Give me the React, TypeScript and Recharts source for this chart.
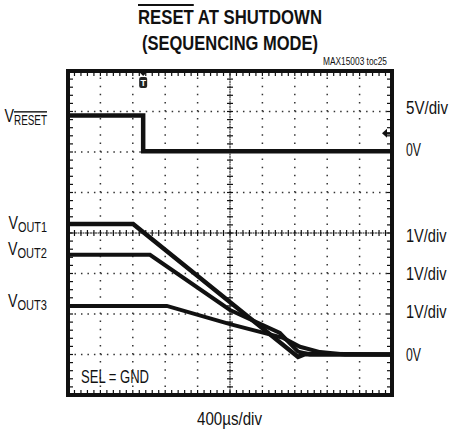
import React from 'react';
import { LineChart, Line, XAxis, YAxis, ReferenceLine, ReferenceDot } from 'recharts';

const FONT = "'Liberation Sans', Arial, sans-serif";
const INK = '#111';

// scope screen is 10 x 8 divisions, values below are in divisions
const gridX = [1, 2, 3, 4, 6, 7, 8, 9];
const gridY = [1, 2, 3, 5, 6, 7];

const resetX = [0, 2.32, 2.32, 10];
const resetY = [6.9, 6.9, 6.02, 6.02];
const out1X = [0, 2.01, 7.1, 7.31, 10];
const out1Y = [4.22, 4.22, 0.94, 1.01, 1.0];
const out2X = [0, 2.53, 5.0, 6.54, 7.1, 7.47, 10];
const out2Y = [3.46, 3.46, 2.1, 1.53, 1.07, 1.0, 1.0];
const out3X = [0, 3.05, 5.0, 6.64, 7.16, 7.78, 8.55, 10];
const out3Y = [2.2, 2.2, 1.75, 1.41, 1.19, 1.06, 1.0, 1.0];

const leftTicks = [6.86, 4.22, 3.58, 2.3];
const leftNames = ['RESET', 'OUT1', 'OUT2', 'OUT3'];
const leftWidths = [33, 29, 29.5, 29.5];
const rightTicks = [7.1, 6.05, 3.95, 3.0, 2.05, 1.0];
const rightNames = ['5V/div', '0V', '1V/div', '1V/div', '1V/div', '0V'];
const rightWidths = [42, 15, 40.5, 40.5, 40.5, 15];

const triggerX = 2.32;
const groundMarkY = 6.46;

const pts = (xs: number[], ys: number[]) => xs.map((x, i) => ({ x, y: ys[i] }));

// condensed look: squeeze text to the width measured on the reference
const Narrow = ({ x, y, w, size, anchor, bold, over, children }: any) => (
  <text
    x={x}
    y={y}
    textAnchor={anchor || 'start'}
    fontSize={size}
    fontWeight={bold ? 'bold' : 'normal'}
    fontFamily={FONT}
    fill={INK}
    textLength={w}
    lengthAdjust="spacingAndGlyphs"
    textDecoration={over ? 'overline' : undefined}
  >
    {children}
  </text>
);

// line with small perpendicular graticule ticks
const ticked = (n: number, a: number, b: number, w: number, dash?: string) => (p: any) => {
  const { x1, y1, x2, y2 } = p;
  const horiz = Math.abs(y1 - y2) < 0.5;
  const marks = [];
  for (let i = 0; i <= n; i++) {
    const x = x1 + ((x2 - x1) * i) / n;
    const y = y1 + ((y2 - y1) * i) / n;
    marks.push(
      horiz ? (
        <line key={i} x1={x} x2={x} y1={y - a} y2={y + b} stroke={INK} strokeWidth={1.2} />
      ) : (
        <line key={i} x1={x - a} x2={x + b} y1={y} y2={y} stroke={INK} strokeWidth={1.2} />
      )
    );
  }
  return (
    <g>
      <line x1={x1} y1={y1} x2={x2} y2={y2} stroke={INK} strokeWidth={w} strokeDasharray={dash} strokeLinecap="square" />
      {marks}
    </g>
  );
};

const LeftTick = (props: any) => {
  const i = leftTicks.indexOf(props.payload.value);
  const sw = leftWidths[i];
  return (
    <g>
      <Narrow x={47 - sw - 9.5} y={props.y + 5} w={9.5} size={18}>
        V
      </Narrow>
      <Narrow x={47 - sw} y={props.y + 8} w={sw} size={14} over={i === 0}>
        {leftNames[i]}
      </Narrow>
    </g>
  );
};

const RightTick = (props: any) => {
  const i = rightTicks.indexOf(props.payload.value);
  return (
    <Narrow x={406} y={props.y + 6.5} w={rightWidths[i]} size={18}>
      {rightNames[i]}
    </Narrow>
  );
};

const Trigger = (p: any) => (
  <g>
    <path d={`M${p.cx - 4},${p.cy + 1} L${p.cx + 4},${p.cy + 1} L${p.cx},${p.cy + 5} Z`} fill={INK} />
    <rect x={p.cx - 4} y={p.cy + 6} width={8} height={11} rx={2} fill="#222" />
    <text x={p.cx} y={p.cy + 15} textAnchor="middle" fontSize={9} fontWeight="bold" fill="#fff" fontFamily={FONT}>
      T
    </text>
  </g>
);

const GroundMark = (p: any) => (
  <g>
    <path d={`M${p.cx - 10},${p.cy} L${p.cx - 5},${p.cy - 4.5} L${p.cx - 5},${p.cy + 4.5} Z`} fill={INK} />
    <line x1={p.cx - 6} x2={p.cx} y1={p.cy} y2={p.cy} stroke={INK} strokeWidth={2.5} />
  </g>
);

export default function App() {
  return (
    <div style={{ position: 'absolute', left: 0, top: 0, width: 449, height: 433, background: '#fff' }}>
      <LineChart width={449} height={433} margin={{ top: 71, right: 0, bottom: 38, left: 0 }}>
        <XAxis xAxisId="b" type="number" dataKey="x" domain={[0, 10]} hide />
        <YAxis
          yAxisId="l"
          type="number"
          domain={[0, 8]}
          width={68}
          ticks={leftTicks}
          interval={0}
          axisLine={false}
          tickLine={false}
          tick={<LeftTick />}
        />
        <YAxis
          yAxisId="r"
          orientation="right"
          type="number"
          domain={[0, 8]}
          width={57}
          ticks={rightTicks}
          interval={0}
          axisLine={false}
          tickLine={false}
          tick={<RightTick />}
        />
        {gridX.map((v) => (
          <ReferenceLine key={'gx' + v} xAxisId="b" yAxisId="l" x={v} stroke="#333" strokeWidth={1.5} strokeDasharray="1.5 6.6" />
        ))}
        {gridY.map((v) => (
          <ReferenceLine key={'gy' + v} xAxisId="b" yAxisId="l" y={v} stroke="#333" strokeWidth={1.5} strokeDasharray="1.5 4.98" />
        ))}
        <ReferenceLine xAxisId="b" yAxisId="l" x={5} shape={ticked(40, 3, 3, 1, '1 1.5')} />
        <ReferenceLine xAxisId="b" yAxisId="l" y={4} shape={ticked(50, 3, 3, 1, '1 1.5')} />
        <Line xAxisId="b" yAxisId="r" data={pts(resetX, resetY)} dataKey="y" type="linear" stroke={INK} strokeWidth={4.5} dot={false} isAnimationActive={false} />
        <Line xAxisId="b" yAxisId="l" data={pts(out1X, out1Y)} dataKey="y" type="linear" stroke={INK} strokeWidth={4.5} dot={false} isAnimationActive={false} />
        <Line xAxisId="b" yAxisId="l" data={pts(out2X, out2Y)} dataKey="y" type="linear" stroke={INK} strokeWidth={4} dot={false} isAnimationActive={false} />
        <Line xAxisId="b" yAxisId="l" data={pts(out3X, out3Y)} dataKey="y" type="linear" stroke={INK} strokeWidth={4} dot={false} isAnimationActive={false} />
        <ReferenceLine xAxisId="b" yAxisId="l" y={8} shape={ticked(50, 0, 5, 4)} />
        <ReferenceLine xAxisId="b" yAxisId="l" y={0} shape={ticked(50, 5, 0, 4)} />
        <ReferenceLine xAxisId="b" yAxisId="l" x={0} shape={ticked(40, 0, 5, 4)} />
        <ReferenceLine xAxisId="b" yAxisId="l" x={10} shape={ticked(40, 5, 0, 4)} />
        <ReferenceDot xAxisId="b" yAxisId="l" x={triggerX} y={8} shape={<Trigger />} />
        <ReferenceDot xAxisId="b" yAxisId="l" x={10} y={groundMarkY} shape={<GroundMark />} />
      </LineChart>
      <svg width={449} height={433} style={{ position: 'absolute', left: 0, top: 0, pointerEvents: 'none' }}>
        <text x={138} y={24} fontSize={20} fontWeight="bold" fontFamily={FONT} fill={INK} textLength={184} lengthAdjust="spacingAndGlyphs">
          <tspan textDecoration="overline">RESET</tspan> AT SHUTDOWN
        </text>
        <Narrow x={142} y={50} w={176} size={20} bold>
          (SEQUENCING MODE)
        </Narrow>
        <Narrow x={323} y={65} w={64} size={11}>
          MAX15003 toc25
        </Narrow>
        <Narrow x={81} y={383} w={68} size={18}>
          SEL = GND
        </Narrow>
        <Narrow x={197} y={425} w={65} size={18}>
          400µs/div
        </Narrow>
      </svg>
    </div>
  );
}
